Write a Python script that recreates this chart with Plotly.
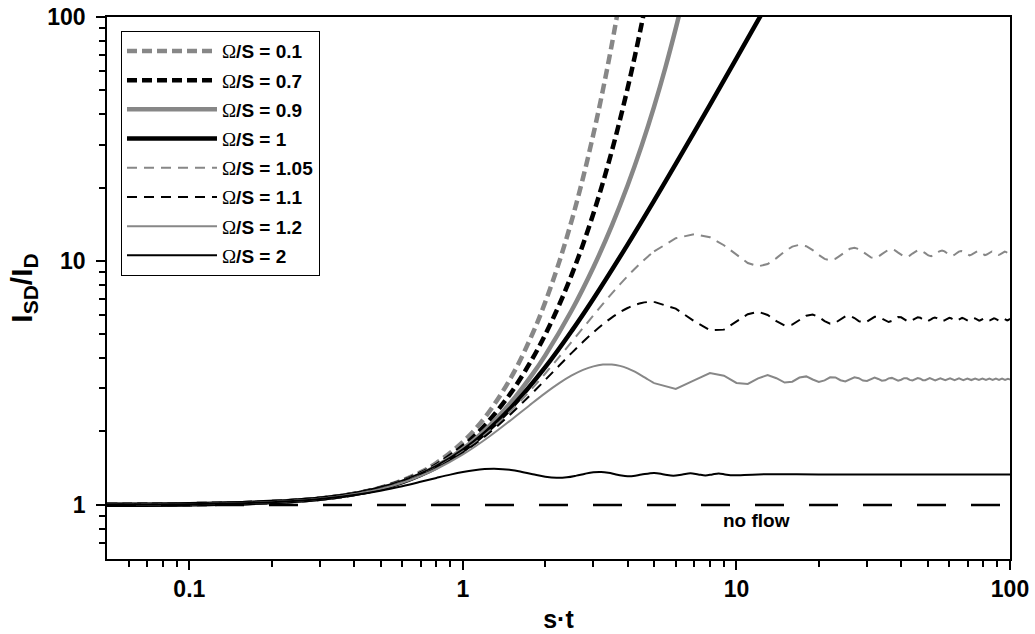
import plotly.graph_objects as go

# ---------------- data ----------------
GRAY = "#878787"
BLACK = "#000000"

# Omega/S = 0.1
t_01 = [0.05, 0.1, 0.2, 0.3, 0.4, 0.5, 0.6, 0.7, 0.8, 1.0, 1.2, 1.5, 1.8, 2.0, 2.25, 2.5, 2.75, 3.0, 3.25, 3.5, 3.8]
y_01 = [1.0017, 1.0067, 1.0269, 1.0611, 1.1101, 1.1752, 1.2578, 1.3599, 1.4842, 1.8119, 2.274, 3.329, 5.053, 6.779, 9.915, 14.68, 21.96, 33.11, 50.27, 76.79, 128.5]

# Omega/S = 0.7
t_07 = [0.05, 0.1, 0.2, 0.3, 0.4, 0.5, 0.6, 0.7, 0.8, 1.0, 1.2, 1.5, 1.8, 2.0, 2.25, 2.5, 2.75, 3.0, 3.25, 3.5, 3.75, 4.0, 4.25, 4.5, 4.7]
y_07 = [1.0017, 1.0067, 1.0267, 1.0606, 1.1084, 1.1710, 1.2490, 1.3434, 1.4553, 1.7378, 2.1112, 2.8846, 3.9969, 4.9927, 6.614, 8.790, 11.713, 15.645, 20.948, 28.116, 37.826, 51.00, 68.94, 93.38, 119.2]

# Omega/S = 0.9
t_09 = [0.05, 0.1, 0.2, 0.3, 0.4, 0.5, 0.6, 0.7, 0.8, 1.0, 1.2, 1.5, 1.8, 2.0, 2.5, 3.0, 3.5, 4.0, 4.5, 5.0, 5.5, 6.0, 6.3]
y_09 = [1.0017, 1.0067, 1.0266, 1.0602, 1.1073, 1.1683, 1.2433, 1.3328, 1.4372, 1.6925, 2.0139, 2.6336, 3.4424, 4.1024, 6.2764, 9.4202, 13.931, 20.386, 29.633, 42.924, 62.077, 89.78, 112.1]

# Omega/S = 1
t_10 = [0.05, 0.1, 0.2, 0.3, 0.4, 0.5, 0.6, 0.7, 0.8, 1.0, 1.2, 1.5, 2.0, 2.5, 3.0, 4.0, 5.0, 6.0, 8.0, 10.0, 12.0, 13.0]
y_10 = [1.0017, 1.0067, 1.0267, 1.06, 1.1067, 1.1667, 1.24, 1.3267, 1.4267, 1.6667, 1.96, 2.5, 3.6667, 5.1667, 7.0, 11.667, 17.667, 25.0, 43.667, 67.667, 97.0, 113.67]

# early-time grid shared by the oscillating curves
t_early = [0.05, 0.1, 0.2, 0.3, 0.4, 0.5, 0.6, 0.7, 0.8, 1.0, 1.25, 1.5, 1.75, 2.0, 2.25, 2.5, 2.75, 3.0, 3.25, 3.5, 3.75, 4.0, 4.25, 4.5, 4.75, 5.0]

# Omega/S = 1.05
y_105_early = [1.0017, 1.0067, 1.0266, 1.0599, 1.1063, 1.1658, 1.2382, 1.3234, 1.4211, 1.6531, 2.0088, 2.4323, 2.9172, 3.4563, 4.0416, 4.6642, 5.3153, 5.9854, 6.6667, 7.3447, 8.0152, 8.6675, 9.2934, 9.8850, 10.4355, 10.9387]
t_105_late = [5, 6, 7, 8, 9, 10, 11, 12, 13, 14, 15, 16, 17, 18, 19, 20, 21, 22, 23, 24, 25, 26, 27, 28, 29, 30,
              31, 32, 33, 34, 35, 36, 37, 38, 39, 40, 41, 42, 43, 44, 45, 46, 47, 48, 49, 50,
              50.291, 51.518, 52.745, 53.971, 55.198, 56.425, 57.651, 58.878, 60.104, 61.331, 62.558, 63.784,
              65.011, 66.237, 67.464, 68.691, 69.917, 71.144, 72.371, 73.597, 74.824, 76.050, 77.277, 78.504,
              79.730, 80.957, 82.184, 83.410, 84.637, 85.863, 87.090, 88.317, 89.543, 90.770, 91.997, 93.223,
              94.450, 95.676, 96.903, 98.130, 99.356, 100]
y_105_late = [10.9387, 12.3925, 12.8752, 12.5027, 11.5979, 10.5738, 9.8017, 9.5047, 9.7109, 10.2723, 10.9378, 11.4525,
              11.6469, 11.4865, 11.0687, 10.5751, 10.1969, 10.0644, 10.2056, 10.5435, 10.9361, 11.2295, 11.3204, 11.1892,
              10.9016, 10.5773, 10.3425, 10.2811, 10.4059, 10.6580, 10.9335, 11.1252, 11.1644, 11.0441, 10.8186, 10.5803,
              10.4216, 10.3998, 10.5169, 10.7213, 10.9301, 11.0624, 11.0703, 10.9559, 10.7688, 10.5841,
              10.5419, 10.4604, 10.5518, 10.7561, 10.9513, 11.0261, 10.9430, 10.7561, 10.5769, 10.5077, 10.5839, 10.7561,
              10.9218, 10.9861, 10.9158, 10.7561, 10.6020, 10.5419, 10.6072, 10.7561, 10.9001, 10.9565, 10.8955, 10.7561,
              10.6210, 10.5679, 10.6250, 10.7561, 10.8834, 10.9336, 10.8798, 10.7561, 10.6358, 10.5882, 10.6390, 10.7561,
              10.8702, 10.9154, 10.8673, 10.7561, 10.6476, 10.614]

# Omega/S = 1.1
y_11_early = [1.0017, 1.0067, 1.0266, 1.0598, 1.1060, 1.1649, 1.2364, 1.3200, 1.4153, 1.6392, 1.9754, 2.3645, 2.7946, 3.2528, 3.7259, 4.2001, 4.6624, 5.1002, 5.5026, 5.8601, 6.1652, 6.4124, 6.5985, 6.7225, 6.7860, 6.7922]
t_11_late = [5, 6, 7, 8, 9, 10, 11, 12, 13, 14, 15, 16, 17, 18, 19, 20, 21, 22, 23, 24, 25, 26, 27, 28, 29, 30,
             31, 32, 33, 34, 35, 36, 37, 38, 39, 40, 41, 42, 43, 44, 45, 46, 47, 48, 49, 50,
             50.559, 51.416, 52.273, 53.130, 53.987, 54.844, 55.701, 56.558, 57.415, 58.272, 59.129, 59.986,
             60.843, 61.700, 62.557, 63.414, 64.271, 65.127, 65.984, 66.841, 67.698, 68.555, 69.412, 70.269,
             71.126, 71.983, 72.840, 73.697, 74.554, 75.411, 76.268, 77.125, 77.982, 78.838, 79.695, 80.552,
             81.409, 82.266, 83.123, 83.980, 84.837, 85.694, 86.551, 87.408, 88.265, 89.122, 89.979, 90.836,
             91.693, 92.550, 93.407, 94.263, 95.120, 95.977, 96.834, 97.691, 98.548, 99.405, 100]
y_11_late = [6.7923, 6.3732, 5.6639, 5.1989, 5.2290, 5.6279, 6.0504, 6.1949, 6.0042, 5.6647, 5.4415, 5.4813,
             5.7232, 5.9667, 6.0331, 5.8909, 5.6662, 5.5335, 5.5834, 5.7631, 5.9277, 5.9545, 5.8345, 5.6681,
             5.5842, 5.6403, 5.7849, 5.9031, 5.9069, 5.8003, 5.6706, 5.6176, 5.6772, 5.7984, 5.8855, 5.8738,
             5.7773, 5.6736, 5.6423, 5.7039, 5.8071, 5.8714, 5.8489, 5.7608, 5.6771, 5.6618,
             5.6892, 5.7619, 5.8322, 5.8597, 5.8300, 5.7619, 5.6959, 5.6700, 5.6979, 5.7619, 5.8240, 5.8485,
             5.8223, 5.7619, 5.7032, 5.6800, 5.7047, 5.7619, 5.8176, 5.8396, 5.8162, 5.7619, 5.7090, 5.6880,
             5.7103, 5.7619, 5.8123, 5.8324, 5.8112, 5.7619, 5.7137, 5.6945, 5.7148, 5.7619, 5.8080, 5.8264,
             5.8070, 5.7619, 5.7177, 5.7000, 5.7186, 5.7619, 5.8044, 5.8213, 5.8035, 5.7619, 5.7211, 5.7047,
             5.7218, 5.7619, 5.8012, 5.8170, 5.8005, 5.7619, 5.7240, 5.7087, 5.7246, 5.7619, 5.7889]

# Omega/S = 1.2
y_12_early = [1.0017, 1.0067, 1.0266, 1.0595, 1.1052, 1.1630, 1.2325, 1.3129, 1.4033, 1.6104, 1.9075, 2.2295, 2.5570, 2.8709, 3.1540, 3.3921, 3.5750, 3.6973, 3.7581, 3.7610, 3.7139, 3.6275, 3.5154, 3.3901, 3.2661, 3.1552]
t_12_late = [5, 6, 7, 8, 9, 10, 11, 12, 13, 14, 15, 16, 17, 18, 19, 20, 21, 22, 23, 24, 25, 26, 27, 28, 29, 30,
             31, 32, 33, 34, 35, 36, 37, 38, 39, 40, 41, 42, 43, 44, 45, 46, 47, 48, 49, 50,
             50.903, 53.27, 55.64, 58.00, 60.38, 62.74, 65.11, 67.48, 69.85, 72.21, 74.59, 76.95,
             79.32, 81.69, 84.05, 86.42, 88.80, 91.16, 93.53, 95.90, 98.26, 100]
y_12_late = [3.1552, 2.9888, 3.2390, 3.4714, 3.3844, 3.1624, 3.1329, 3.3028, 3.4044, 3.3061, 3.1737, 3.1986,
             3.3262, 3.3632, 3.2661, 3.1883, 3.2398, 3.3344, 3.3309, 3.2434, 3.2053, 3.2685, 3.3332, 3.3049,
             3.2314, 3.2235, 3.2883, 3.3262, 3.2832, 3.2273, 3.2415, 3.3009, 3.3156, 3.2661, 3.2290, 3.2584,
             3.3075, 3.3027, 3.2537, 3.2350, 3.2731, 3.3089, 3.2895, 3.2460, 3.2439, 3.2848,
             3.3064, 3.2405, 3.3035, 3.2432, 3.3011, 3.2454, 3.2990, 3.2473, 3.2972, 3.2490, 3.2957, 3.2504,
             3.2943, 3.2517, 3.2931, 3.2529, 3.2920, 3.2539, 3.2910, 3.2549, 3.2901, 3.2614]

# Omega/S = 2
t_20 = [0.05, 0.1, 0.2, 0.3, 0.4, 0.5, 0.6, 0.7, 0.8, 0.9, 1.0, 1.1, 1.2, 1.3, 1.4, 1.5, 1.6, 1.8, 2.0, 2.2, 2.4,
        2.6, 2.8, 3.0, 3.2, 3.4, 3.6, 3.8, 4.0, 4.2, 4.5, 5.0, 5.44, 5.88, 6.35, 6.79, 7.25, 7.70, 8.16, 8.61,
        9.07, 9.51, 12, 20, 40, 100]
y_20 = [1.0017, 1.0066, 1.0260, 1.0567, 1.0969, 1.1434, 1.1932, 1.2430, 1.2898, 1.3308, 1.3638, 1.3876, 1.4015,
        1.4057, 1.4014, 1.3901, 1.3739, 1.3359, 1.3044, 1.2908, 1.2974, 1.3183, 1.3427, 1.3597, 1.3633, 1.3534,
        1.3359, 1.3191, 1.3102, 1.3123, 1.3308, 1.3526, 1.3333, 1.3170, 1.3333, 1.3475, 1.3333, 1.3208, 1.3333,
        1.3445, 1.3333, 1.3232, 1.3333, 1.3333, 1.3333, 1.3333]

# no flow reference
t_noflow = [0.05, 100]
y_noflow = [1.0, 1.0]

labels = ["0.1", "0.7", "0.9", "1", "1.05", "1.1", "1.2", "2"]

x_tickvals = [0.1, 1, 10, 100]
x_ticktext = ["0.1", "1", "10", "100"]
y_tickvals = [1, 10, 100]
y_ticktext = ["1", "10", "100"]
x_minor = [0.06, 0.07, 0.08, 0.09, 0.2, 0.3, 0.4, 0.5, 0.6, 0.7, 0.8, 0.9,
           2, 3, 4, 5, 6, 7, 8, 9, 20, 30, 40, 50, 60, 70, 80, 90]
y_minor = [0.7, 0.8, 0.9, 2, 3, 4, 5, 6, 7, 8, 9, 20, 30, 40, 50, 60, 70, 80, 90]

# ---------------- figure ----------------
OMEGA = "<span style=\"font-family:'Liberation Serif',serif;font-weight:normal\">\u03a9</span>"


def name(v):
    return OMEGA + "/S = " + v


THICK = 4.5
THIN = 2.0
DASH_THICK = "10px,5px"
DASH_THIN = "10px,7px"

fig = go.Figure()

smooth = [
    (t_01, y_01, GRAY, THICK, DASH_THICK, labels[0]),
    (t_07, y_07, BLACK, THICK, DASH_THICK, labels[1]),
    (t_09, y_09, GRAY, THICK, "solid", labels[2]),
    (t_10, y_10, BLACK, THICK, "solid", labels[3]),
]
for i, (tx, ty, col, w, dash, lab) in enumerate(smooth):
    fig.add_trace(go.Scatter(x=tx, y=ty, mode="lines", name=name(lab), legendgroup="g%d" % i,
                             line=dict(color=col, width=w, dash=dash, shape="spline", smoothing=1.0)))

osc = [
    (y_105_early, t_105_late, y_105_late, GRAY, THIN, DASH_THIN, labels[4]),
    (y_11_early, t_11_late, y_11_late, BLACK, THIN, DASH_THIN, labels[5]),
    (y_12_early, t_12_late, y_12_late, GRAY, THIN, "solid", labels[6]),
]
for j, (ye, tl, yl, col, w, dash, lab) in enumerate(osc):
    g = "g%d" % (j + 4)
    fig.add_trace(go.Scatter(x=t_early, y=ye, mode="lines", name=name(lab), legendgroup=g,
                             line=dict(color=col, width=w, dash=dash, shape="spline", smoothing=1.0)))
    fig.add_trace(go.Scatter(x=tl, y=yl, mode="lines", name=name(lab), legendgroup=g, showlegend=False,
                             line=dict(color=col, width=w, dash=dash)))

fig.add_trace(go.Scatter(x=t_20, y=y_20, mode="lines", name=name(labels[7]), legendgroup="g7",
                         line=dict(color=BLACK, width=THIN, shape="spline", smoothing=1.0)))

fig.add_trace(go.Scatter(x=t_noflow, y=y_noflow, mode="lines", showlegend=False,
                         line=dict(color=BLACK, width=2.5, dash="29px,25px")))

fig.add_annotation(x=1.073, y=-0.066, xref="x", yref="y", text="no flow", showarrow=False,
                   font=dict(family="Liberation Sans", size=19, color="black", weight="bold"))

tickfont = dict(family="Liberation Sans", size=23, color="black", weight="bold")

fig.update_xaxes(type="log", range=[-1.30103, 2], tickmode="array", tickvals=x_tickvals, ticktext=x_ticktext,
                 ticks="outside", ticklen=9, tickwidth=1.5, tickcolor="black",
                 minor=dict(tickmode="array", tickvals=x_minor, ticks="outside", ticklen=6, tickwidth=1.5,
                            tickcolor="black", showgrid=False),
                 showline=True, linecolor="black", linewidth=1.5, mirror=True, showgrid=False, zeroline=False,
                 tickfont=tickfont,
                 title=dict(text="s\u00b7t", font=dict(family="Liberation Sans", size=25, color="black", weight="bold"),
                            standoff=9))
fig.update_yaxes(type="log", range=[-0.22185, 2], tickmode="array", tickvals=y_tickvals, ticktext=y_ticktext,
                 ticks="outside", ticklen=9, tickwidth=1.5, tickcolor="black",
                 minor=dict(tickmode="array", tickvals=y_minor, ticks="outside", ticklen=6, tickwidth=1.5,
                            tickcolor="black", showgrid=False),
                 showline=True, linecolor="black", linewidth=1.5, mirror=True, showgrid=False, zeroline=False,
                 tickfont=tickfont, ticklabelstandoff=6,
                 title=dict(text="I<sub>SD</sub>/I<sub>D</sub>",
                            font=dict(family="Liberation Sans", size=30, color="black", weight="bold"),
                            standoff=6))

fig.update_layout(
    width=1035, height=634,
    margin=dict(l=107, r=25, t=17, b=75, autoexpand=False),
    paper_bgcolor="white", plot_bgcolor="white",
    showlegend=True,
    legend=dict(x=0.0155, y=0.974, xanchor="left", yanchor="top",
                bgcolor="white", bordercolor="black", borderwidth=1,
                font=dict(family="Liberation Sans", size=19, color="black", weight="bold"),
                itemwidth=90, tracegroupgap=1.5, traceorder="grouped"),
)

fig.write_html("out.html", config={"displayModeBar": False},
               post_script="document.body.style.margin='0px';document.body.style.padding='0px';")
